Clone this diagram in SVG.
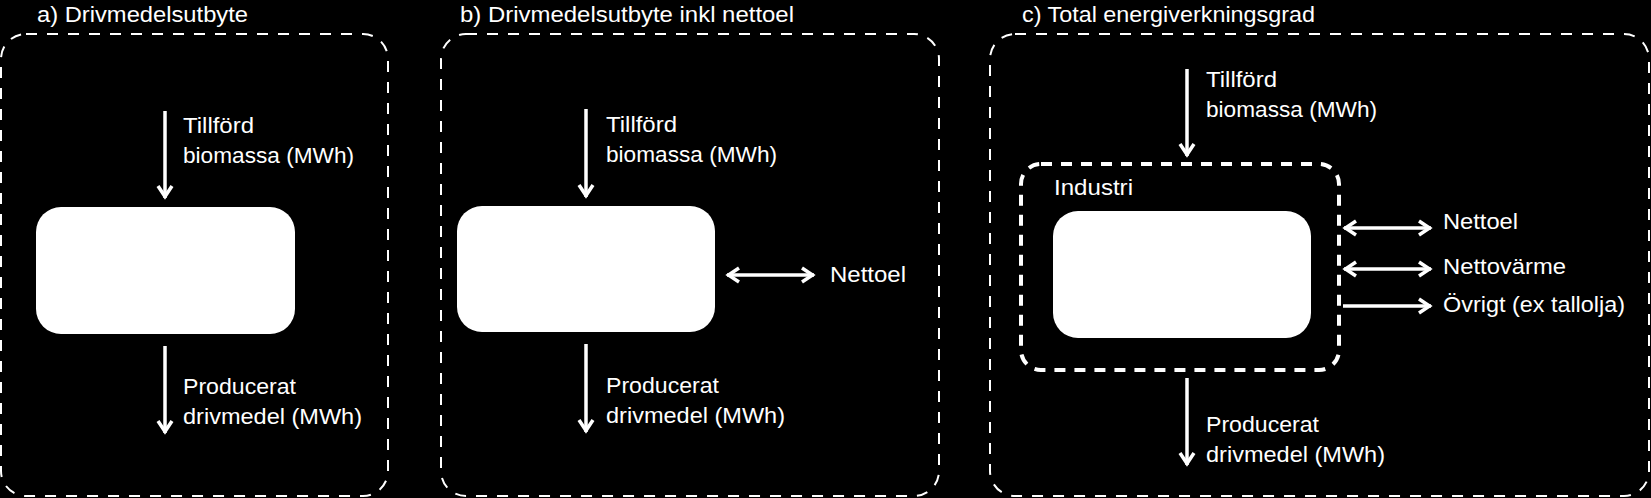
<svg xmlns="http://www.w3.org/2000/svg" width="1651" height="498" viewBox="0 0 1651 498">
<defs>
<style>
.bg{fill:#000}
.outer{fill:none;stroke:#fff;stroke-width:2;stroke-dasharray:11 10}
.inner{fill:none;stroke:#fff;stroke-width:4;stroke-dasharray:11 9}
.node{fill:#fff;stroke:none}
.t{font-family:"Liberation Sans",Arial,sans-serif;font-size:22px;fill:#fff}
.ln{fill:none;stroke:#fff;stroke-width:3.5}
</style>
<marker id="ah" markerUnits="userSpaceOnUse" viewBox="-16 -10 20 20" refX="0" refY="0" markerWidth="20" markerHeight="20" orient="auto-start-reverse">
<path d="M-12,-7 L-1.5,0 L-12,7" fill="none" stroke="#fff" stroke-width="3.5"/>
</marker>
</defs>
<rect class="bg" x="0" y="0" width="1651" height="498"/>

<g id="panel-a">
<text class="t" x="37" y="22" textLength="211" lengthAdjust="spacingAndGlyphs">a) Drivmedelsutbyte</text>
<rect class="outer" x="1" y="34" width="387" height="462" rx="25"/>
</g>
<g id="panel-b">
<text class="t" x="460" y="22" textLength="334" lengthAdjust="spacingAndGlyphs">b) Drivmedelsutbyte inkl nettoel</text>
<rect class="outer" x="441" y="34" width="498" height="462" rx="25"/>
</g>
<g id="panel-c">
<text class="t" x="1022" y="22" textLength="293" lengthAdjust="spacingAndGlyphs">c) Total energiverkningsgrad</text>
<rect class="outer" x="990" y="34" width="659" height="462" rx="25"/>
</g>
<g id="industri">
<rect class="inner" x="1021" y="164" width="318" height="206" rx="20"/>
<text class="t" x="1054" y="195" textLength="79" lengthAdjust="spacingAndGlyphs">Industri</text>
</g>

<g id="node-a"><rect class="node" x="36" y="207" width="259" height="127" rx="25"/></g>
<g id="node-b"><rect class="node" x="457" y="206" width="258" height="126" rx="25"/></g>
<g id="node-c"><rect class="node" x="1053" y="211" width="258" height="127" rx="25"/></g>

<g id="connectors">
<line class="ln" x1="165" y1="111" x2="165" y2="198" marker-end="url(#ah)"/>
<line class="ln" x1="165" y1="346" x2="165" y2="433" marker-end="url(#ah)"/>
<line class="ln" x1="586" y1="109" x2="586" y2="197" marker-end="url(#ah)"/>
<line class="ln" x1="586" y1="344" x2="586" y2="432" marker-end="url(#ah)"/>
<line class="ln" x1="727" y1="275" x2="814" y2="275" marker-start="url(#ah)" marker-end="url(#ah)"/>
<line class="ln" x1="1187" y1="69" x2="1187" y2="156" marker-end="url(#ah)"/>
<line class="ln" x1="1187" y1="378" x2="1187" y2="465" marker-end="url(#ah)"/>
<line class="ln" x1="1344" y1="228" x2="1431" y2="228" marker-start="url(#ah)" marker-end="url(#ah)"/>
<line class="ln" x1="1344" y1="269" x2="1431" y2="269" marker-start="url(#ah)" marker-end="url(#ah)"/>
<line class="ln" x1="1343" y1="306" x2="1431" y2="306" marker-end="url(#ah)"/>
</g>

<g id="labels">
<text class="t" x="183" y="133" textLength="71" lengthAdjust="spacingAndGlyphs">Tillförd</text>
<text class="t" x="183" y="163" textLength="171" lengthAdjust="spacingAndGlyphs">biomassa (MWh)</text>
<text class="t" x="183" y="394" textLength="113" lengthAdjust="spacingAndGlyphs">Producerat</text>
<text class="t" x="183" y="424" textLength="179" lengthAdjust="spacingAndGlyphs">drivmedel (MWh)</text>

<text class="t" x="606" y="132" textLength="71" lengthAdjust="spacingAndGlyphs">Tillförd</text>
<text class="t" x="606" y="162" textLength="171" lengthAdjust="spacingAndGlyphs">biomassa (MWh)</text>
<text class="t" x="830" y="282" textLength="76" lengthAdjust="spacingAndGlyphs">Nettoel</text>
<text class="t" x="606" y="393" textLength="113" lengthAdjust="spacingAndGlyphs">Producerat</text>
<text class="t" x="606" y="423" textLength="179" lengthAdjust="spacingAndGlyphs">drivmedel (MWh)</text>

<text class="t" x="1206" y="87" textLength="71" lengthAdjust="spacingAndGlyphs">Tillförd</text>
<text class="t" x="1206" y="117" textLength="171" lengthAdjust="spacingAndGlyphs">biomassa (MWh)</text>
<text class="t" x="1443" y="229" textLength="75" lengthAdjust="spacingAndGlyphs">Nettoel</text>
<text class="t" x="1443" y="274" textLength="123" lengthAdjust="spacingAndGlyphs">Nettovärme</text>
<text class="t" x="1443" y="312" textLength="182" lengthAdjust="spacingAndGlyphs">Övrigt (ex tallolja)</text>
<text class="t" x="1206" y="432" textLength="113" lengthAdjust="spacingAndGlyphs">Producerat</text>
<text class="t" x="1206" y="462" textLength="179" lengthAdjust="spacingAndGlyphs">drivmedel (MWh)</text>
</g>
</svg>
